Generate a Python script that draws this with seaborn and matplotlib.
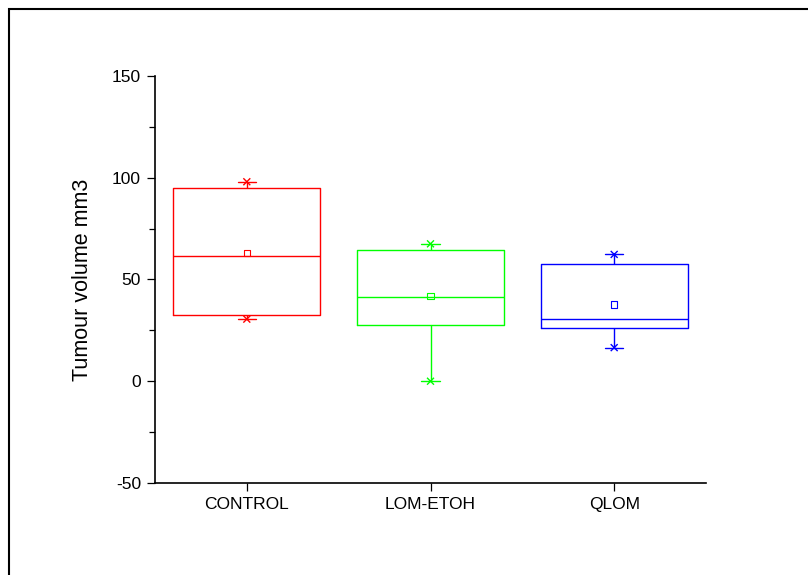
import matplotlib
matplotlib.use("Agg")
import matplotlib.pyplot as plt
from matplotlib.ticker import MultipleLocator
from matplotlib.patches import Rectangle
import pandas as pd
import seaborn as sns

# 数据
groups = ["CONTROL", "LOM-ETOH", "QLOM"]
colors = ["#ff0000", "#00ff00", "#0000ff"]
mins = [30.5, 0.0, 16.5]
q1s = [32.3, 27.7, 26.0]
medians = [61.5, 41.5, 30.5]
q3s = [94.9, 64.4, 57.7]
maxs = [98.0, 67.5, 62.3]
means = [63.1, 41.8, 37.7]

# 五数概括 -> 长表（箱线图按此计算四分位）
rows = []
for g, a, b, c, d, e in zip(groups, mins, q1s, medians, q3s, maxs):
    for v in (a, b, c, d, e):
        rows.append({"group": g, "value": v})
box_df = pd.DataFrame(rows)
mean_df = pd.DataFrame({"group": groups, "value": means})
ext_df = pd.DataFrame({"group": groups * 2, "value": mins + maxs})
palette = dict(zip(groups, colors))

sns.set_style("ticks")
plt.rcParams["font.family"] = ["Liberation Sans", "DejaVu Sans"]
plt.rcParams["axes.unicode_minus"] = False
plt.rcParams["text.color"] = "black"
plt.rcParams["axes.labelcolor"] = "black"
plt.rcParams["xtick.color"] = "black"
plt.rcParams["ytick.color"] = "black"
plt.rcParams["axes.edgecolor"] = "black"

fig = plt.figure(figsize=(8.08, 5.75), dpi=100)
ax = fig.add_axes([0.1918, 0.160, 0.682, 0.708])

sns.boxplot(data=box_df, x="group", y="value", hue="group", palette=palette,
            order=groups, hue_order=groups, fill=False, width=0.8,
            whis=(0, 100), linewidth=1, capwidths=0.1, legend=False, ax=ax)

n0 = len(ax.collections)
sns.stripplot(data=mean_df, x="group", y="value", hue="group", palette=palette,
              order=groups, hue_order=groups, jitter=False, marker="s", size=4.5,
              linewidth=0.8, legend=False, ax=ax)
for coll in ax.collections[n0:]:
    fc = coll.get_facecolors()
    coll.set_edgecolors(fc)
    coll.set_facecolors("none")

n1 = len(ax.collections)
sns.stripplot(data=ext_df, x="group", y="value", hue="group", palette=palette,
              order=groups, hue_order=groups, jitter=False, marker="x", size=5,
              linewidth=1, legend=False, ax=ax)
for coll in ax.collections[n1:]:
    coll.set_edgecolors(coll.get_facecolors())

ax.set_xlim(-0.5, 2.5)
ax.set_ylim(-50, 150)
ax.yaxis.set_major_locator(MultipleLocator(50))
ax.yaxis.set_minor_locator(MultipleLocator(25))
ax.tick_params(axis="both", which="major", length=6, width=0.9, labelsize=12.5, pad=4)
ax.tick_params(axis="y", which="minor", length=4, width=0.9)
ax.set_xlabel("")
ax.set_ylabel("Tumour volume mm3", fontsize=15.5, labelpad=14)
for s in ("left", "bottom"):
    ax.spines[s].set_linewidth(1.2)
sns.despine(ax=ax)

# 外框（右侧和底部被裁掉）
fig.patches.append(Rectangle((9 / 808, -0.2), 1.5, 1.2 - 9 / 575,
                             transform=fig.transFigure, fill=False,
                             edgecolor="black", linewidth=1.5))

fig.savefig("out.png", dpi=100)
